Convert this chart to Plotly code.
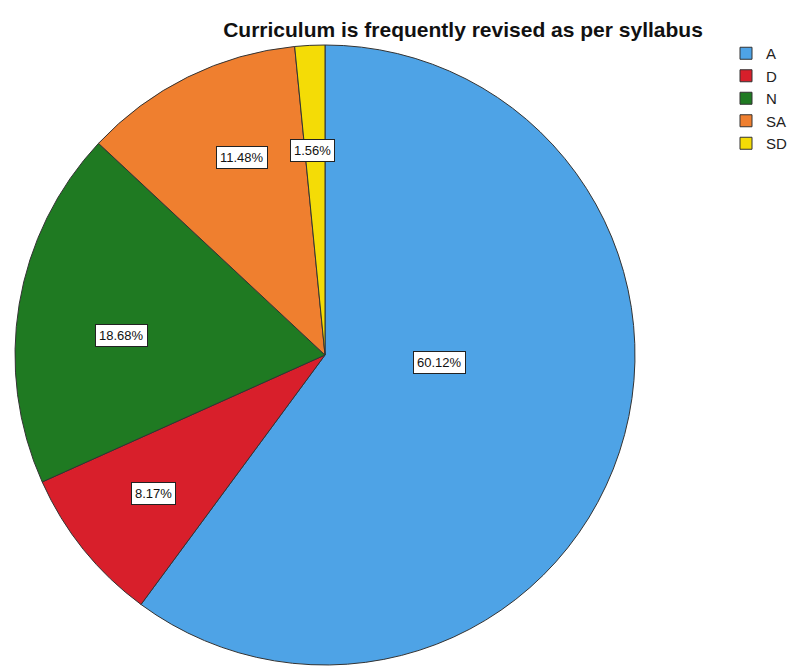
import math
import plotly.graph_objects as go

categories = ["A", "D", "N", "SA", "SD"]
percentages = [60.12, 8.17, 18.68, 11.48, 1.56]
colors = ["#4ea3e6", "#d81f2b", "#1f7a22", "#ef7f2f", "#f4dc06"]
label_radius = [0.37, 0.71, 0.66, 0.69, 0.66]       # fraction of pie radius for label boxes
label_angle_shift = [-14.7, 0.0, -3.9, 3.4, -0.6]   # degrees, fine placement of label boxes

W, H = 800, 668
OFF = 8  # page body margin offset
cx, cy, R = 325 - OFF, 355 - OFF, 310

fig = go.Figure()
fig.add_trace(go.Pie(
    labels=categories,
    values=percentages,
    sort=False,
    direction="clockwise",
    rotation=0,
    textinfo="none",
    hoverinfo="label+percent",
    marker=dict(colors=colors, line=dict(color="#333333", width=1)),
    domain=dict(x=[(cx - R) / W, (cx + R) / W], y=[1 - (cy + R) / H, 1 - (cy - R) / H]),
))

total = sum(percentages)
cum = 0.0
annotations = []
for cat, val, rf, sh in zip(categories, percentages, label_radius, label_angle_shift):
    mid = (cum + val / 2) / total * 2 * math.pi + math.radians(sh)
    cum += val
    px = cx + rf * R * math.sin(mid)
    py = cy - rf * R * math.cos(mid)
    annotations.append(dict(
        x=px / W, y=1 - py / H, xref="paper", yref="paper",
        xanchor="center", yanchor="middle",
        text=f"{val:.2f}%", showarrow=False,
        font=dict(family="Liberation Sans, Arial", size=13, color="#111111"),
        bgcolor="white", bordercolor="#222222", borderwidth=1, borderpad=3,
    ))

fig.update_layout(
    width=W, height=H,
    margin=dict(l=0, r=0, t=0, b=0),
    paper_bgcolor="white", plot_bgcolor="white",
    title=dict(text="<b>Curriculum is frequently revised as per syllabus</b>",
               x=(463 - OFF) / W, xanchor="center", y=1 - (30 - OFF) / H, yanchor="middle",
               font=dict(family="Liberation Sans, Arial", size=21, color="#111111")),
    legend=dict(x=(726 - OFF) / W, y=1 - (37 - OFF) / H, xanchor="left", yanchor="top",
                font=dict(family="Liberation Sans, Arial", size=15, color="#222222"),
                tracegroupgap=0, bgcolor="rgba(0,0,0,0)"),
    annotations=annotations,
)

fig.write_html("out.html")
